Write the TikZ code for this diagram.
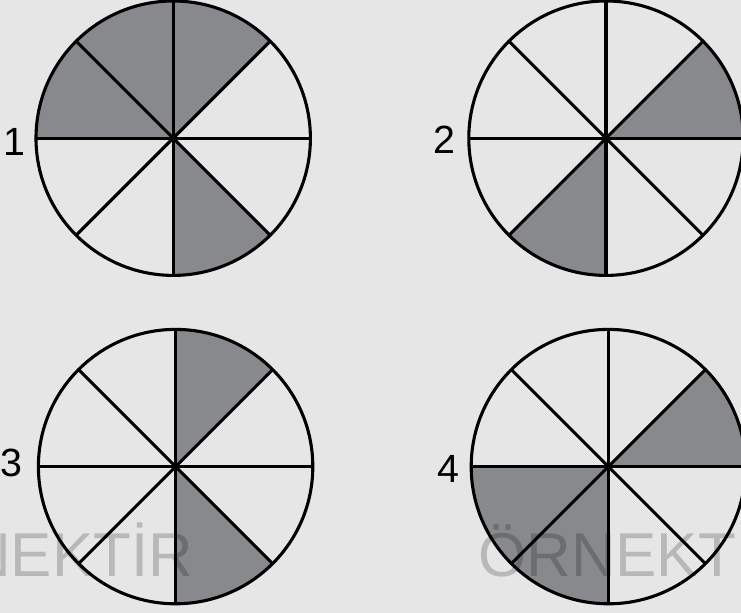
\documentclass[tikz,border=0pt]{standalone}
\usepackage{fontspec}
\setmainfont{Liberation Sans}
\usetikzlibrary{positioning}
\definecolor{zemin}{HTML}{E6E6E6}
\definecolor{dilim}{HTML}{88898D}
\tikzset{
  disk/.style={circle, minimum size=6.86cm, inner sep=0pt, outer sep=0pt},
  cizgi/.style={line width=2.2pt},
  numara/.style={inner sep=0pt, font=\fontsize{28}{30}\selectfont},
  filigran/.style={inner sep=0pt, anchor=base west, text=black, text opacity=0.2,
    font=\fontsize{44}{48}\selectfont}
}
\begin{document}
\begin{tikzpicture}
  \fill[zemin] (0,0) rectangle (18.525,15.325);
  \useasboundingbox (0,0) rectangle (18.525,15.325);
  % Daireler
  \node[disk] (d1) at (4.33,11.87) {};
  \node[disk] (d2) at (15.15,11.87) {};
  \node[disk] (d3) at (4.39,3.66) {};
  \node[disk] (d4) at (15.21,3.66) {};
  % Taralı dilimler
  \foreach \n/\a in {1/45,1/90,1/135,1/270,2/0,2/225,3/45,3/270,4/0,4/180,4/225}
    \fill[dilim] (d\n.center) -- ++(\a:3.43) arc[start angle=\a, end angle=\a+45, radius=3.43] -- cycle;
  % Filigran
  \node[filigran] (f1) at (-3.17,0.9) {ÖRNEKTİR};
  \node[filigran] (f2) at (11.95,0.9) {ÖRNEKTİR};
  % Çizgiler
  \foreach \n in {1,...,4} {
    \draw[cizgi] (d\n.center) circle[radius=3.43];
    \draw[cizgi] (d\n.north) -- (d\n.south);
    \draw[cizgi] (d\n.west) -- (d\n.east);
    \draw[cizgi] (d\n.north east) -- (d\n.south west);
    \draw[cizgi] (d\n.north west) -- (d\n.south east);
  }
  % Numaralar
  \node[numara, left=0.25cm of d1, yshift=-0.1cm] (n1) {1};
  \node[numara, left=0.34cm of d2, yshift=-0.05cm] (n2) {2};
  \node[numara, left=0.4cm of d3, yshift=0.1cm] (n3) {3};
  \node[numara, left=0.3cm of d4, yshift=-0.05cm] (n4) {4};
\end{tikzpicture}
\end{document}
